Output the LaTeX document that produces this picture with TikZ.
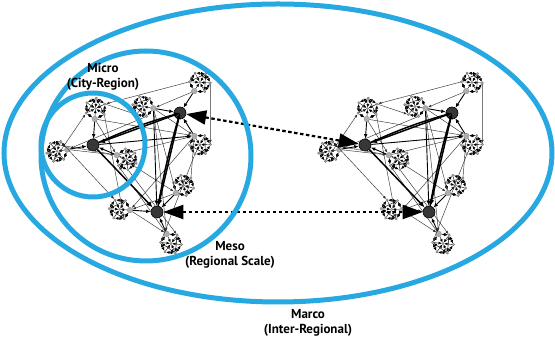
\documentclass[tikz,border=0pt]{standalone}
\usepackage{fontspec}
\setmainfont{PT Sans}
\usetikzlibrary{arrows.meta}
\definecolor{ringBlue}{RGB}{40,168,224}
\definecolor{nodeGray}{RGB}{175,175,175}
\definecolor{hubGray}{RGB}{55,55,55}

% one regional network: three hubs, nine local nodes, each with a small ring
\tikzset{
  net/.pic={
    \node[hub] (-h1) at (0,0) {};
    \node[hub] (-h2) at (87,32) {};
    \node[hub] (-h3) at (64,-67) {};
    \foreach \hx/\hy/\a/\r [count=\i] in {0/0/86/26, 0/0/190/26, 0/0/-23/26,
        87/32/57/26, 87/32/170/27, 87/32/-58/27,
        64/-67/45/27, 64/-67/176/27, 64/-67/-66/24}{
      \node[gnode] (-g\i) at ([shift={(\a:\r)}]\hx,\hy) {};
      \node[tnode] (-c\i) at ([shift={(\a:{\r+10.5})}]\hx,\hy) {};
      \foreach \k in {1,...,5}
        \node[tnode] (-t\i-\k) at ([shift={(\a:{\r+10.5})},shift={({\a+180+60*\k}:10.5)}]\hx,\hy) {};
      \draw[fine] (-g\i) -- (-t\i-1);
      \draw[fine] (-t\i-5) -- (-g\i);
      \foreach \k/\kk in {1/2,2/3,3/4,4/5,1/3,3/5}
        \draw[fine] (-t\i-\k) -- (-t\i-\kk);
      \foreach \k in {1,...,5}
        \draw[spoke] (-t\i-\k) -- (-c\i);
      \draw[spoke] (-g\i) -- (-c\i);
    }
    % links between the local rings
    \foreach \p/\q in {t1-2/t5-4, t2-4/t1-5, t1-1/t8-5, t2-1/t8-2, g3/g7, g5/g7,
        g5/g9, g6/g8, t4-5/t1-2, t4-2/t6-4, t6-2/t9-1, g3/g6, t3-2/t9-5,
        g2/g3, g1/g3, g4/g5, g5/g6, g7/g8, g8/g9, t7-3/g6, g1/g6, t2-2/g3,
        g9/t3-1, t5-5/g2}
      \draw[xlink] (-\p) -- (-\q);
    % local nodes to their hub
    \foreach \g/\h in {g1/h1, g2/h1, g3/h1, g4/h2, g5/h2, g6/h2, g7/h3, g8/h3, g9/h3}
      \draw[mid] (-\g) -- (-\h);
    \draw[mid] (-h1) -- (-g6);
    \draw[mid] (-g5) -- (-h3);
    % hubs
    \draw[hubline] (-h1) to[bend left=4] (-h2);
    \draw[hubline] (-h2) -- (-h1);
    \draw[hubline] (-h1) -- (-h3);
    \draw[hubline] (-h3) to[bend left=3] (-h2);
    \draw[hubline] (-h2) -- (-h3);
  }
}

\begin{document}
\begin{tikzpicture}[x=1pt, y=1pt,
    hub/.style={circle, draw=black, fill=hubGray, minimum size=12pt, inner sep=0pt, line width=0.6pt},
    gnode/.style={circle, draw=gray, fill=nodeGray, minimum size=5.5pt, inner sep=0pt, line width=0.3pt},
    tnode/.style={circle, draw=gray!70!black, fill=nodeGray, minimum size=2.4pt, inner sep=0pt, line width=0.2pt},
    fine/.style={line width=0.45pt, {Latex[length=3.4pt,width=3pt]}-{Latex[length=3.4pt,width=3pt]}},
    spoke/.style={line width=0.4pt, -{Latex[length=3.2pt,width=2.8pt]}},
    xlink/.style={line width=0.45pt, draw=black!80, -{Latex[length=3.2pt,width=2.6pt]}},
    mid/.style={line width=0.9pt, -{Latex[length=4.5pt,width=3.8pt]}},
    hubline/.style={line width=1.5pt, -{Latex[length=6pt,width=5pt]}},
    link/.style={line width=2.2pt, dash pattern=on 3.5pt off 2.5pt, {Triangle[length=20pt,width=14pt]}-{Triangle[length=20pt,width=14pt]}},
    ring/.style={draw=ringBlue, line width=5pt},
    label/.style={align=center, font=\bfseries\fontsize{13}{15}\selectfont}
]
\useasboundingbox (0,0) rectangle (555,342);
\pic (L) at (93,197) {net};
\pic (R) at (365,197) {net};
\draw[link] (L-h2) -- (R-h1);
\draw[link] (L-h3) -- (R-h3);
\draw[ring] (278,189) ellipse [x radius=274, y radius=149];
\draw[ring] (146,186) circle [radius=105];
\draw[ring] (93,197) circle [radius=52];
\node[label] (micro) at (103,265) {Micro\\(City-Region)};
\node[label] (meso) at (230,87) {Meso\\(Regional Scale)};
\node[label] (marco) at (308,19) {Marco\\(Inter-Regional)};
\end{tikzpicture}
\end{document}
